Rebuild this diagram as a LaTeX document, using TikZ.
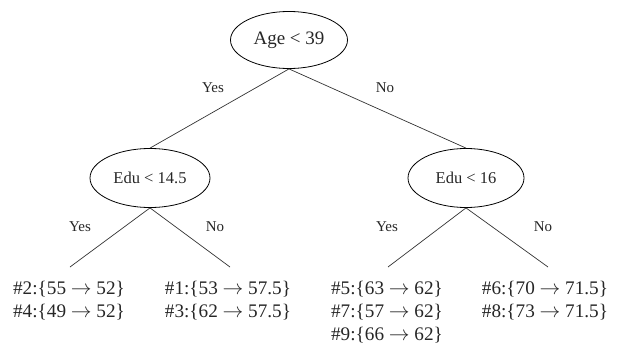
\documentclass[tikz,border=0pt]{standalone}
\usepackage{fontspec}
\setmainfont{Liberation Serif}
\usetikzlibrary{shapes.geometric}
\begin{document}
\begin{tikzpicture}[x=1pt,y=-1pt,
  test/.style={ellipse,draw,line width=0.8pt,inner sep=0pt,text=black!85},
  edge/.style={line width=0.7pt,draw=black!80},
  lab/.style={font=\fontsize{15}{18}\selectfont,text=black!85},
  leaf/.style={anchor=north,align=left,inner xsep=0pt,inner ysep=0pt,text=black!85,font=\fontsize{19.2}{23}\selectfont}]
\useasboundingbox (0,0) rectangle (619,351);
\node[test,minimum width=117pt,minimum height=57pt,font=\fontsize{19}{22}\selectfont] (root) at (289,40) {Age < 39};
\node[test,minimum width=120pt,minimum height=59pt,font=\fontsize{16.5}{20}\selectfont] (l) at (150,178) {Edu < 14.5};
\node[test,minimum width=116pt,minimum height=59pt,font=\fontsize{16.5}{20}\selectfont] (r) at (466,178) {Edu < 16};
\coordinate (ll) at (70,267);
\coordinate (lr) at (230,267);
\coordinate (rl) at (388,267);
\coordinate (rr) at (548,267);
\draw[edge] (root.south) -- (l.north);
\draw[edge] (root.south) -- (r.north);
\draw[edge] (l.south) -- (ll);
\draw[edge] (l.south) -- (lr);
\draw[edge] (r.south) -- (rl);
\draw[edge] (r.south) -- (rr);
\node[lab] (y0) at (213,88) {Yes};
\node[lab] (n0) at (385,88) {No};
\node[lab] (y1) at (80,227) {Yes};
\node[lab] (n1) at (215,227) {No};
\node[lab] (y2) at (387,227) {Yes};
\node[lab] (n2) at (543,227) {No};
\node[leaf] (a) at (69,281) {\#2:\{55 $\rightarrow$ 52\}\\\#4:\{49 $\rightarrow$ 52\}};
\node[leaf] (b) at (228,281) {\#1:\{53 $\rightarrow$ 57.5\}\\\#3:\{62 $\rightarrow$ 57.5\}};
\node[leaf] (c) at (387,281) {\#5:\{63 $\rightarrow$ 62\}\\\#7:\{57 $\rightarrow$ 62\}\\\#9:\{66 $\rightarrow$ 62\}};
\node[leaf] (d) at (545,281) {\#6:\{70 $\rightarrow$ 71.5\}\\\#8:\{73 $\rightarrow$ 71.5\}};
\end{tikzpicture}
\end{document}
